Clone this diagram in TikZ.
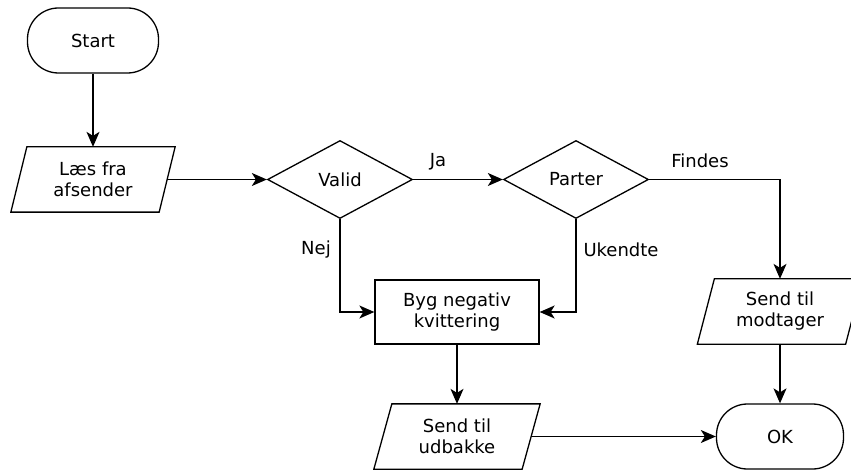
\documentclass[tikz,border=0pt]{standalone}
\usepackage{fontspec}
\setmainfont{DejaVu Sans}
\usetikzlibrary{shapes.geometric,arrows.meta,calc}
\begin{document}
\begin{tikzpicture}[x=1pt,y=-1pt,line width=1.3pt,
  every node/.style={font=\fontsize{18}{21}\selectfont, align=center, inner sep=0pt},
  term/.style={draw, rectangle, rounded corners=31pt, minimum height=65pt},
  box/.style={draw, rectangle, minimum width=164pt, minimum height=64pt},
  io/.style={rectangle, minimum width=147pt, minimum height=64pt},
  dec/.style={draw, diamond, minimum width=145pt, minimum height=78pt},
  conn/.style={-{Stealth[length=15pt,width=13pt,inset=4pt]}}
]
\useasboundingbox (0,0) rectangle (851,470);
\node[term, minimum width=131pt] (start) at (93,40.5) {Start};
\node[io] (les) at (93,179.5) {Læs fra\\afsender};
\node[dec] (valid) at (340,179.5) {Valid};
\node[dec] (parter) at (576,179.5) {Parter};
\node[box] (byg) at (457,312) {Byg negativ\\kvittering};
\node[io] (modt) at (780,311.5) {Send til\\modtager};
\node[io] (udb) at (457,436.5) {Send til\\udbakke};
\node[term, minimum width=127pt] (ok) at (780,436.5) {OK};
\foreach \n/\s in {les/8, modt/8.5, udb/9}
  \draw ([xshift=\s pt]\n.north west) -- ([xshift=\s pt]\n.north east)
     -- ([xshift=-\s pt]\n.south east) -- ([xshift=-\s pt]\n.south west) -- cycle;
\draw[conn] (start) -- (les);
\draw[conn] (les) -- (valid);
\draw[conn] (valid) -- (parter);
\draw[conn] (parter.east) -| (modt.north);
\draw[conn] (parter.south) |- (byg.east);
\draw[conn] (valid.south) |- (byg.west);
\draw[conn] (byg) -- (udb);
\draw[conn] (udb) -- (ok);
\draw[conn] (modt) -- (ok);
\node (ja) at (438,162) {Ja};
\node (findes) at (700,161) {Findes};
\node (ukendte) at (621,250) {Ukendte};
\node (nej) at (316,250) {Nej};
\end{tikzpicture}
\end{document}
